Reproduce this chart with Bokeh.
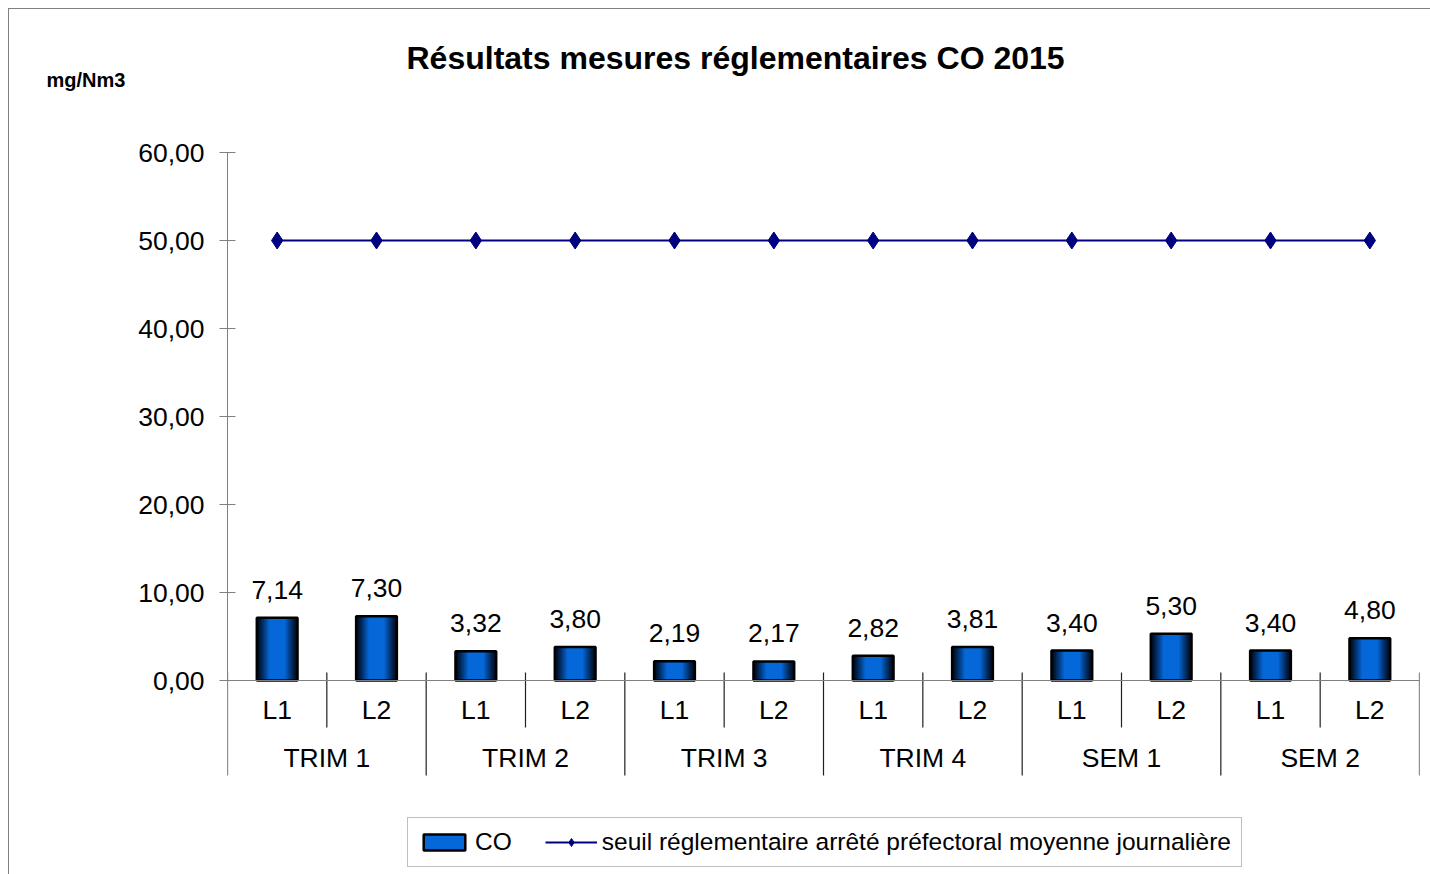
from bokeh.plotting import figure
from bokeh.models import (Range1d, FixedTicker, Span, Legend, LegendItem, Title)
from bokeh.embed import file_html
from bokeh.resources import INLINE
from bokeh.core.properties import value

# ---- data ----
groups = ["TRIM 1", "TRIM 2", "TRIM 3", "TRIM 4", "SEM 1", "SEM 2"]
subs = ["L1", "L2"]
co_values = [7.14, 7.30, 3.32, 3.80, 2.19, 2.17, 2.82, 3.81, 3.40, 5.30, 3.40, 4.80]
co_labels = ["7,14", "7,30", "3,32", "3,80", "2,19", "2,17", "2,82", "3,81", "3,40", "5,30", "3,40", "4,80"]
threshold = [50, 50, 50, 50, 50, 50, 50, 50, 50, 50, 50, 50]
y_ticks = [0, 10, 20, 30, 40, 50, 60]
y_tick_labels = ["0,00", "10,00", "20,00", "30,00", "40,00", "50,00", "60,00"]
title_text = "Résultats mesures réglementaires CO 2015"
unit_text = "mg/Nm3"
series_names = ["CO", "seuil réglementaire arrêté préfectoral moyenne journalière"]

FONT = "Liberation Sans"
TXT = "26.5px"
n = len(co_values)
xs = [i + 0.5 for i in range(n)]
sub_labels = [subs[i % 2] for i in range(n)]

# ---- layout (figure placed at page (8, 8)) ----
W, H = 1422, 866
frame_left, frame_right = 218, 12
frame_top, frame_bottom = 82, 0
px_per_unit = 8.8
zero_px = 671           # y=0 in figure pixels
y_end = (zero_px - frame_top) / px_per_unit
y_start = -(H - frame_bottom - zero_px) / px_per_unit

p = figure(width=W, height=H, output_backend="svg", toolbar_location=None,
           x_range=Range1d(0, n), y_range=Range1d(y_start, y_end),
           min_border_left=frame_left, min_border_right=frame_right,
           min_border_top=frame_top, min_border_bottom=frame_bottom)
p.outline_line_color = None
p.grid.visible = False
p.xaxis.visible = False
p.background_fill_color = "white"
p.border_fill_color = "white"
p.styles = {"margin-left": "8px", "margin-top": "8px",
            "border-left": "1px solid #808080", "border-top": "1px solid #808080"}

# titles
p.title.text = title_text
p.title.align = "left"
p.title.offset = 179
p.title.text_font = FONT
p.title.text_font_size = "32px"
p.title.text_font_style = "bold"
p.title.text_color = "black"
p.title.standoff = -21
unit_title = Title(text=unit_text, align="left", offset=-181, text_font=FONT,
                   text_font_size="20px", text_font_style="bold", text_color="black",
                   standoff=2)
p.add_layout(unit_title, "above")

# y axis
ya = p.yaxis[0]
ya.bounds = (0, 60)
ya.ticker = FixedTicker(ticks=y_ticks)
ya.major_label_overrides = {t: l for t, l in zip(y_ticks, y_tick_labels)}
ya.axis_line_color = "#808080"
ya.major_tick_line_color = "#808080"
ya.major_tick_out = 8
ya.major_tick_in = 8
ya.minor_tick_line_color = None
ya.major_label_text_font = FONT
ya.major_label_text_font_size = TXT
ya.major_label_text_color = "black"
ya.major_label_standoff = 15

# x axis line at 0
p.add_layout(Span(location=0, dimension="width", line_color="#808080", line_width=1.2))

# separators
to_u = lambda d: d / px_per_unit
sep_x = list(range(0, n + 1))
sep_y0 = [to_u(8) for _ in sep_x]
sep_y1 = [-to_u(95) if (k % 2 == 0) else -to_u(47) for k in sep_x]
p.segment(x0=sep_x, y0=sep_y0, x1=sep_x, y1=sep_y1, line_color="#202020", line_width=1.2)

# bars with cylinder-like gradient: nested rectangles, dark outside -> bright center
bar_w = 0.41
levels = 18
dark = (0, 8, 24)
bright = (6, 104, 216)
bright_r = None
for k in range(levels):
    frac = 1 - k / levels
    t = 1 - frac
    f = min(1.0, (t / 0.6) ** 1.1)
    c = tuple(int(dark[j] + (bright[j] - dark[j]) * f) for j in range(3))
    col = "#%02x%02x%02x" % c
    r = p.vbar(x=xs, top=co_values, bottom=0, width=bar_w * frac,
               fill_color=col, line_color=None)
    bright_r = r
outline = p.vbar(x=xs, top=co_values, bottom=0, width=bar_w, fill_color=None,
                 line_color="black", line_width=2.5)

# value labels
p.text(x=xs, y=co_values, text=co_labels, text_align="center", text_baseline="alphabetic",
       y_offset=-28, text_font=value(FONT), text_font_size=TXT, text_color="black")

# threshold line
ln = p.line(x=xs, y=threshold, line_color="#000080", line_width=2.2)
mk = p.scatter(x=xs, y=threshold, marker="diamond", size=17,
               fill_color="#000080", line_color="#000080")

# category labels
p.text(x=xs, y=[-to_u(29)] * n, text=sub_labels, text_align="center", text_baseline="alphabetic",
       text_font=value(FONT), text_font_size=TXT, text_color="black")
gx = [2 * i + 1 for i in range(len(groups))]
p.text(x=gx, y=[-to_u(77)] * len(groups), text=groups, text_align="center",
       text_baseline="alphabetic", text_font=value(FONT), text_font_size=TXT, text_color="black")

# legend
legend = Legend(items=[LegendItem(label=series_names[0], renderers=[bright_r, outline]),
                       LegendItem(label=series_names[1], renderers=[ln, mk])],
                orientation="horizontal", location=(180, 8),
                label_text_font=FONT, label_text_font_size="24.5px", label_text_color="black",
                glyph_width=52, glyph_height=20, label_standoff=5, spacing=33,
                padding=10, margin=0, border_line_color="#808080", border_line_width=1.2,
                background_fill_color="white", background_fill_alpha=1)
p.add_layout(legend, "center")

open("out.html", "w").write(file_html(p, INLINE))
